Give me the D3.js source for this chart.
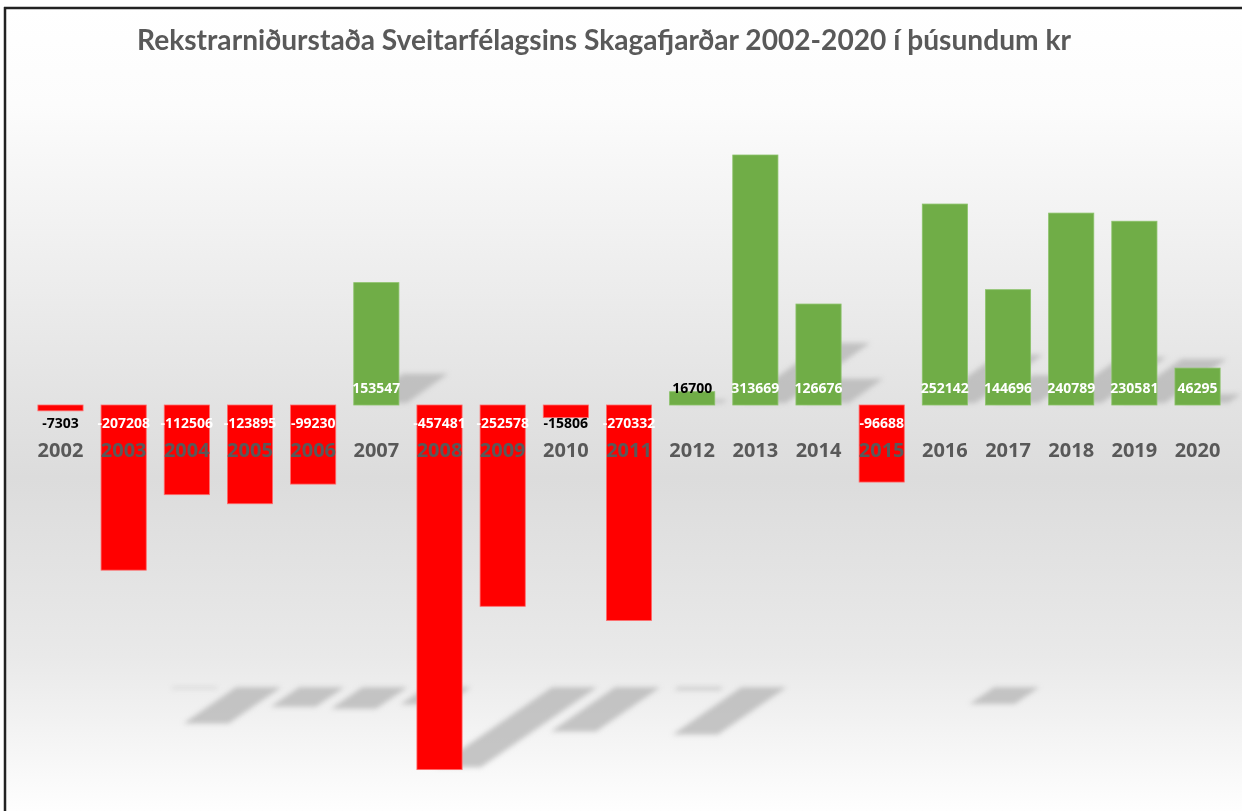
<!DOCTYPE html>
<html><head><meta charset="utf-8">
<script src="https://cdn.jsdelivr.net/npm/d3@7"></script>
<style>html,body{margin:0;padding:0;background:#fff;overflow:hidden}</style>
</head><body>
<svg id="c" width="1242" height="811"></svg>
<script>
const years = ["2002","2003","2004","2005","2006","2007","2008","2009","2010","2011","2012","2013","2014","2015","2016","2017","2018","2019","2020"];
const values = [-7303,-207208,-112506,-123895,-99230,153547,-457481,-252578,-15806,-270332,16700,313669,126676,-96688,252142,144696,240789,230581,46295];
const title = "Rekstrarniðurstaða Sveitarfélagsins Skagafjarðar 2002-2020 í þúsundum kr";

const W = 1242, H = 811;
const svg = d3.select("#c");
const defs = svg.append("defs");
const g = defs.append("linearGradient").attr("id","bg").attr("x1",0).attr("y1",0).attr("x2",0).attr("y2",1);
[[0,"#ffffff"],[0.12,"#fcfcfc"],[0.35,"#ececec"],[0.58,"#dcdcdc"],[0.8,"#e9e9e9"],[1,"#ffffff"]]
  .forEach(([o,c])=>g.append("stop").attr("offset",o).attr("stop-color",c));
defs.append("filter").attr("id","blur").attr("x","-20%").attr("y","-50%").attr("width","140%").attr("height","200%")
  .append("feGaussianBlur").attr("stdDeviation",2.5);

svg.append("rect").attr("x",4).attr("y",7).attr("width",W).attr("height",H).attr("fill","url(#bg)");

const x = d3.scaleBand().domain(years).range([28.9, 28.9 + 19*63.17]).paddingInner(0.285).paddingOuter(0.1425);
const y = d3.scaleLinear().domain([-500000, 350000]).range([405 + 500000*0.000797, 405 - 350000*0.000797]);
const y0 = y(0);
const bw = x.bandwidth();

// perspective shadows (derived from values via scales)
const shadowG = svg.append("g").attr("filter","url(#blur)");
values.forEach((v,i)=>{
  const xl = x(years[i]), h = Math.abs(y(v)-y0);
  let pts;
  if (v >= 0) {
    const sh = 0.24*h, base = y0-2, off = 8, sk = 1.4*sh;
    pts = [[xl+off, base],[xl+bw+off, base],[xl+bw+off+sk, base-sh],[xl+off+sk, base-sh]];
  } else {
    const top = y(-354000), sh = 0.22*h, off = 135, sk = 1.45*sh;
    pts = [[xl+off, top],[xl+bw+off, top],[xl+bw+off-sk, top+sh],[xl+off-sk, top+sh]];
  }
  shadowG.append("polygon").attr("points", pts.map(p=>p.join(",")).join(" "))
    .attr("fill","#b4b4b4").attr("opacity",0.75);
});

// bars
svg.append("g").selectAll("rect").data(values).join("rect")
  .attr("x",(d,i)=>x(years[i]))
  .attr("width",bw)
  .attr("y",d=>Math.min(y(d),y0))
  .attr("height",d=>Math.abs(y(d)-y0))
  .attr("fill",d=>d<0?"#ff0000":"#70ad47")
  .attr("stroke",d=>d<0?"#ff6a6a":"#8cc26a").attr("stroke-width",0.8);

// year labels
svg.append("g").selectAll("text").data(years).join("text")
  .attr("x",d=>x(d)+bw/2).attr("y",y0+47)
  .attr("text-anchor","middle").attr("dominant-baseline","middle")
  .attr("font-family","'Open Sans', sans-serif").attr("font-weight","bold").attr("font-size",20)
  .attr("fill","#595959").text(d=>d);

// value labels
svg.append("g").selectAll("text").data(values).join("text")
  .attr("x",(d,i)=>x(years[i])+bw/2)
  .attr("y",d=>d<0?y0+19:y0-16)
  .attr("text-anchor","middle").attr("dominant-baseline","middle")
  .attr("font-family","'Open Sans', sans-serif").attr("font-weight",700).attr("font-size",14)
  .attr("fill",d=>Math.abs(y(d)-y0)<20?"#000000":"#ffffff")
  .text(d=>d);

// title
svg.append("text").attr("x",137).attr("y",50)
  .attr("font-family","Lato, sans-serif").attr("font-weight","bold").attr("font-size",28)
  .attr("fill","#595959").attr("textLength",934).attr("lengthAdjust","spacingAndGlyphs")
  .text(title);

// frame
svg.append("line").attr("x1",4).attr("x2",W).attr("y1",8).attr("y2",8).attr("stroke","#222").attr("stroke-width",2.5);
svg.append("line").attr("x1",5).attr("x2",5).attr("y1",7).attr("y2",H).attr("stroke","#222").attr("stroke-width",2.5);
</script>
</body></html>
